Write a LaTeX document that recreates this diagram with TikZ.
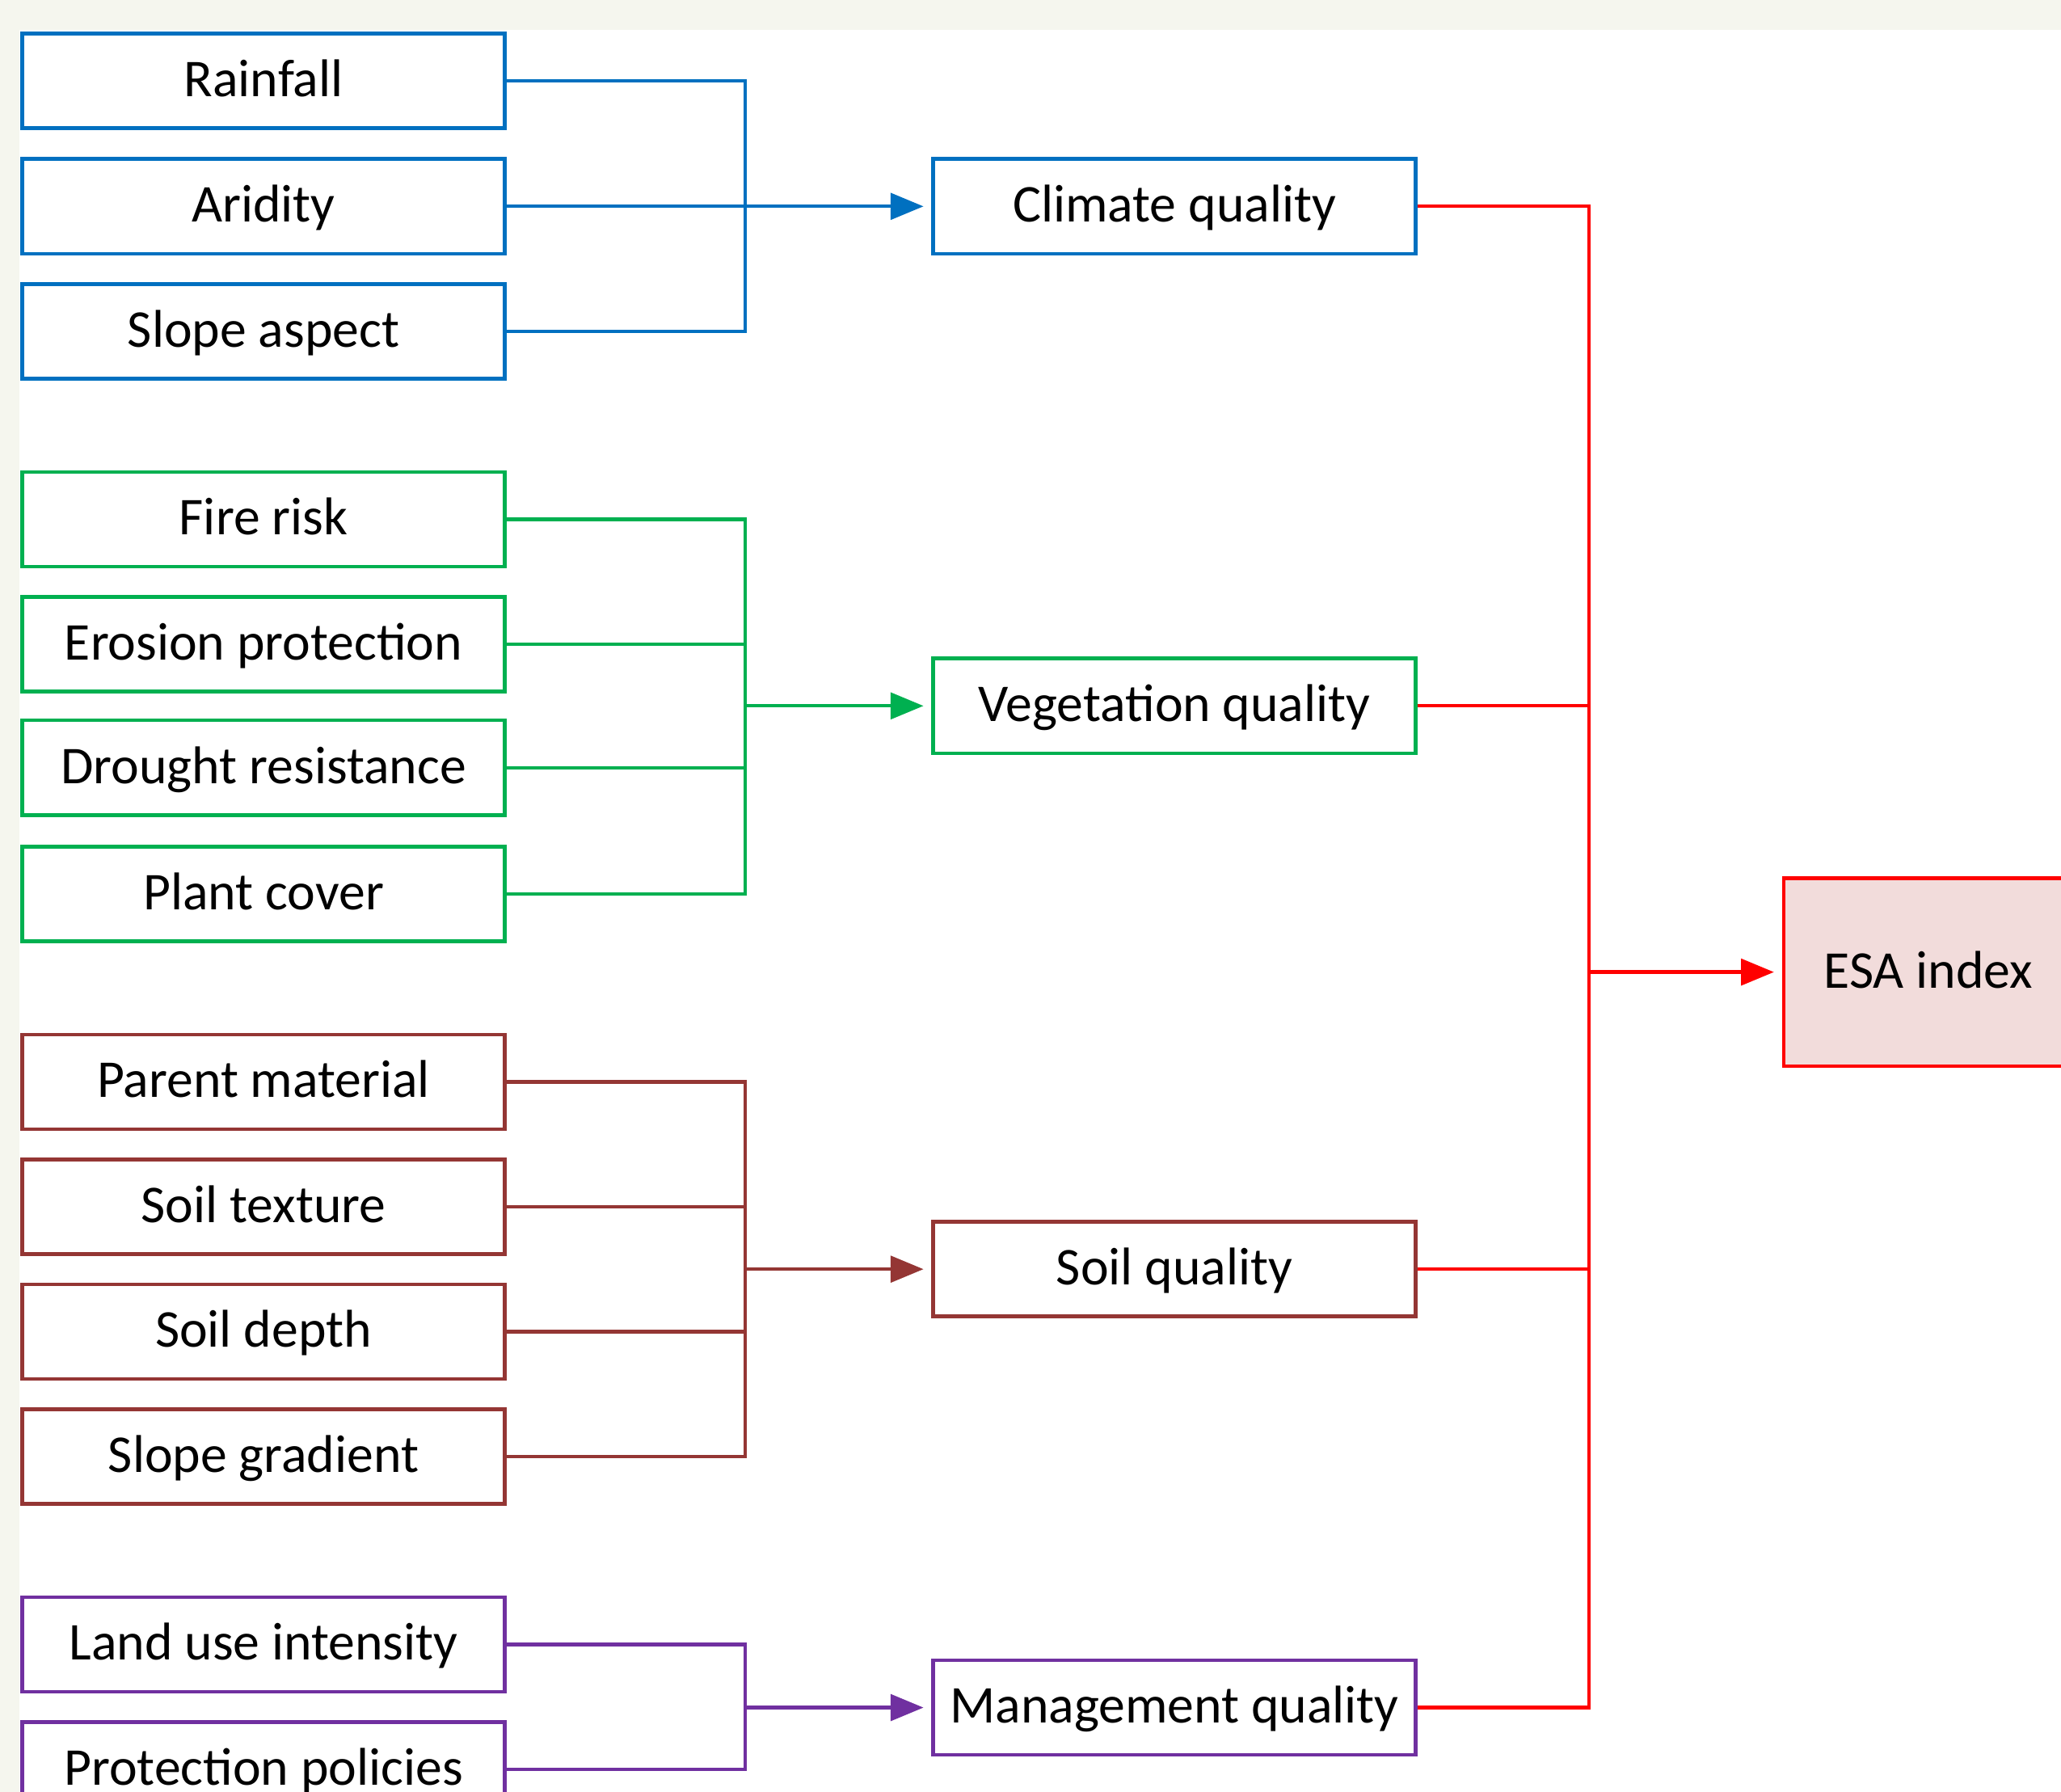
\documentclass[tikz,border=0pt]{standalone}
\usepackage{fontspec}
\setmainfont{Carlito}
\usetikzlibrary{arrows.meta, positioning}
\definecolor{esaBlue}{HTML}{0070C0}
\definecolor{esaGreen}{HTML}{00B050}
\definecolor{esaBrown}{HTML}{943634}
\definecolor{esaPurple}{HTML}{7030A0}
\definecolor{esaRed}{HTML}{FF0000}
\definecolor{esaPink}{HTML}{F2DCDB}
\definecolor{pageTint}{HTML}{F5F6EE}
\tikzset{
  % thin lines and solid triangle tips, as in the source figure
  every picture/.append style = {line width=0.75pt, >={Triangle[length=2.5mm, width=2mm]}},
  factor/.style = {draw=#1, line width=0.8pt, fill=white, text=black,
                   minimum width=3.67cm, minimum height=0.72cm, inner sep=0pt,
                   text depth=0.25ex, font=\fontsize{11.5}{13}\selectfont},
  link/.style   = {#1, line width=0.75pt},
  feed/.style   = {#1, ->, line width=0.75pt, shorten >=0.6mm},
}

\begin{document}
\begin{tikzpicture}
  % page and margins
  \useasboundingbox (0,0) rectangle (15.68,-13.63);
  \clip (0,0) rectangle (15.68,-13.63);
  \fill[pageTint] (0,0) rectangle (15.68,-13.63);
  \fill[white] (0.15,-0.23) rectangle (15.68,-13.63);
  % bus lines
  \coordinate (gbus) at (5.67,0);
  \coordinate (rbus) at (12.09,0);
  % climate group
  \node[factor=esaBlue] (rain)  at (2.005,-0.615) {Rainfall};
  \node[factor=esaBlue] (arid)  at (2.005,-1.57) {Aridity};
  \node[factor=esaBlue] (aspct) at (2.005,-2.52) {Slope aspect};
  \node[factor=esaBlue] (clim)  at (8.935,-1.57) {Climate quality};
  \draw[link=esaBlue] (rain.east) -- (rain.east -| gbus) -- (aspct.east -| gbus) -- (aspct.east);
  \draw[feed=esaBlue] (arid.east) -- (clim.west);
  % vegetation group
  \node[factor=esaGreen] (fire)  at (2.005,-3.95) {Fire risk};
  \node[factor=esaGreen] (eros)  at (2.005,-4.90) {Erosion protection};
  \node[factor=esaGreen] (drght) at (2.005,-5.84) {Drought resistance};
  \node[factor=esaGreen] (cover) at (2.005,-6.80) {Plant cover};
  \node[factor=esaGreen] (veg)   at (8.935,-5.37) {Vegetation quality};
  \draw[link=esaGreen] (fire.east) -- (fire.east -| gbus) -- (cover.east -| gbus) -- (cover.east);
  \draw[link=esaGreen] (eros.east) -- (eros.east -| gbus);
  \draw[link=esaGreen] (drght.east) -- (drght.east -| gbus);
  \draw[feed=esaGreen] (veg.west -| gbus) -- (veg.west);
  % soil group
  \node[factor=esaBrown] (paren) at (2.005,-8.23) {Parent material};
  \node[factor=esaBrown] (textr) at (2.005,-9.18) {Soil texture};
  \node[factor=esaBrown] (depth) at (2.005,-10.13) {Soil depth};
  \node[factor=esaBrown] (grad)  at (2.005,-11.08) {Slope gradient};
  \node[factor=esaBrown] (soil)  at (8.935,-9.655) {Soil quality};
  \draw[link=esaBrown] (paren.east) -- (paren.east -| gbus) -- (grad.east -| gbus) -- (grad.east);
  \draw[link=esaBrown] (textr.east) -- (textr.east -| gbus);
  \draw[link=esaBrown] (depth.east) -- (depth.east -| gbus);
  \draw[feed=esaBrown] (soil.west -| gbus) -- (soil.west);
  % management group
  \node[factor=esaPurple] (luse) at (2.005,-12.51) {Land use intensity};
  \node[factor=esaPurple] (prot) at (2.005,-13.46) {Protection policies};
  \node[factor=esaPurple] (mgmt) at (8.935,-12.99) {Management quality};
  \draw[link=esaPurple] (luse.east) -- (luse.east -| gbus) -- (prot.east -| gbus) -- (prot.east);
  \draw[feed=esaPurple] (mgmt.west -| gbus) -- (mgmt.west);
  % index
  \node[factor=esaRed, fill=esaPink, minimum width=2.2cm, minimum height=1.43cm] (esa) at (14.67,-7.395) {ESA index};
  \draw[link=esaRed] (clim.east) -- (clim.east -| rbus) -- (mgmt.east -| rbus) -- (mgmt.east);
  \draw[link=esaRed] (veg.east) -- (veg.east -| rbus);
  \draw[link=esaRed] (soil.east) -- (soil.east -| rbus);
  \draw[feed=esaRed] (esa.west -| rbus) -- (esa.west);
\end{tikzpicture}
\end{document}
